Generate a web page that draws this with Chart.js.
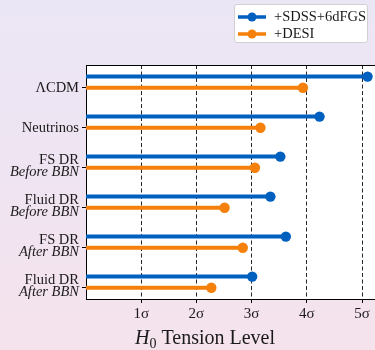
<!DOCTYPE html>
<html>
<head>
<meta charset="utf-8">
<script src="https://cdn.jsdelivr.net/npm/chart.js@4.4.1/dist/chart.umd.min.js"></script>
<style>
  html, body { margin: 0; padding: 0; width: 375px; height: 350px; overflow: hidden; }
  body { background: linear-gradient(180deg, #ebe6f5 0%, #efe4f2 50%, #f5e3ec 100%); position: relative; font-family: 'Liberation Serif', 'DejaVu Serif', serif; }
  #wrap { position: absolute; left: 0; top: 0; width: 375px; height: 350px; }
  #legend { position: absolute; left: 234px; top: 4px; width: 134px; height: 39px; background: #fff; border: 1px solid #d0d0d0; border-radius: 3px; box-sizing: border-box; padding-top: 3px; }
  .item { display: flex; align-items: center; height: 17px; padding-left: 3px; font-size: 14.5px; color: #1a1a1a; }
  .item svg { margin-right: 8px; }
</style>
</head>
<body>
<div id="wrap"><canvas id="c" width="375" height="350"></canvas></div>
<div id="legend"></div>
<script>
// ---- data ----
const categories = ['ΛCDM', 'Neutrinos', 'FS DR|Before BBN', 'Fluid DR|Before BBN', 'FS DR|After BBN', 'Fluid DR|After BBN'];
const sdssValues = [5.10, 4.23, 3.52, 3.34, 3.62, 3.01];
const desiValues = [3.93, 3.16, 3.06, 2.51, 2.84, 2.27];
const xTickValues = [1, 2, 3, 4, 5];
const xTickLabels = ['1σ', '2σ', '3σ', '4σ', '5σ'];
const seriesNames = ['+SDSS+6dFGS', '+DESI'];

const BLUE = '#0060bf';
const ORANGE = '#f5800c';
const OFF = 0.14;

function buildSeries(vals, off) {
  const pts = [];
  vals.forEach((v, i) => {
    pts.push({x: 0, y: i + off});
    pts.push({x: v, y: i + off, end: true});
    pts.push({x: null, y: null});
  });
  return pts;
}

// legend (HTML)
const legend = document.getElementById('legend');
[[seriesNames[0], BLUE], [seriesNames[1], ORANGE]].forEach(([name, col]) => {
  const d = document.createElement('div');
  d.className = 'item';
  d.innerHTML = '<svg width="28" height="12"><line x1="0" y1="6" x2="28" y2="6" stroke="' + col + '" stroke-width="3.5"/><circle cx="14" cy="6" r="4.5" fill="' + col + '"/></svg><span>' + name + '</span>';
  legend.appendChild(d);
});

const framePlugin = {
  id: 'frame',
  beforeDraw(chart) {
    const {ctx, chartArea: a} = chart;
    ctx.save();
    ctx.fillStyle = '#ffffff';
    ctx.fillRect(a.left, a.top, a.right - a.left, a.bottom - a.top);
    ctx.restore();
  },
  afterDraw(chart) {
    const {ctx, chartArea: a} = chart;
    ctx.save();
    ctx.strokeStyle = '#000';
    ctx.lineWidth = 1;
    ctx.beginPath();
    ctx.moveTo(a.left, a.top + 0.5);
    ctx.lineTo(a.right, a.top + 0.5);
    ctx.stroke();
    // y labels
    const ys = chart.scales.y;
    ctx.fillStyle = '#1a1a1a';
    ctx.textAlign = 'right';
    ctx.textBaseline = 'middle';
    categories.forEach((c, i) => {
      const py = ys.getPixelForValue(i + OFF);
      const parts = c.split('|');
      if (parts.length === 1) {
        ctx.font = '14.5px "Liberation Serif"';
        ctx.fillText(parts[0], 79, py);
      } else {
        ctx.font = '14.5px "Liberation Serif"';
        ctx.fillText(parts[0], 79, py - 8);
        ctx.font = 'italic 14.5px "Liberation Serif"';
        ctx.fillText(parts[1], 79, py + 4.5);
      }
    });
    // x title: H_0 Tension Level
    const f1 = 'italic 20px "Liberation Serif"';
    const f2 = '14px "Liberation Serif"';
    const f3 = '20px "Liberation Serif"';
    ctx.textAlign = 'left';
    ctx.textBaseline = 'alphabetic';
    ctx.font = f1; const w1 = ctx.measureText('H').width;
    ctx.font = f2; const w2 = ctx.measureText('0').width;
    ctx.font = f3; const w3 = ctx.measureText(' Tension Level').width;
    let x0 = 205 - (w1 + w2 + w3) / 2;
    ctx.font = f1; ctx.fillText('H', x0, 344);
    ctx.font = f2; ctx.fillText('0', x0 + w1, 347.5);
    ctx.font = f3; ctx.fillText(' Tension Level', x0 + w1 + w2, 344);
    ctx.restore();
  }
};

const radiusFn = (ctx) => (ctx.raw && ctx.raw.end ? 5.2 : 0);

new Chart(document.getElementById('c'), {
  type: 'scatter',
  data: {
    datasets: [
      {label: seriesNames[0], data: buildSeries(sdssValues, -OFF), showLine: true, borderColor: BLUE, backgroundColor: BLUE, borderWidth: 4, pointRadius: radiusFn, pointHoverRadius: radiusFn, pointBorderWidth: 0, spanGaps: false, borderCapStyle: 'butt'},
      {label: seriesNames[1], data: buildSeries(desiValues, OFF), showLine: true, borderColor: ORANGE, backgroundColor: ORANGE, borderWidth: 4, pointRadius: radiusFn, pointHoverRadius: radiusFn, pointBorderWidth: 0, spanGaps: false, borderCapStyle: 'butt'}
    ]
  },
  options: {
    responsive: false,
    animation: false,
    devicePixelRatio: 1,
    layout: {padding: {top: 65, right: 0, left: 0, bottom: 0}},
    plugins: {legend: {display: false}, tooltip: {enabled: false}},
    scales: {
      x: {
        type: 'linear',
        min: 0, max: 5.235,
        afterBuildTicks: (s) => { s.ticks = xTickValues.map(v => ({value: v})); },
        afterFit: (s) => { s.height = 51; },
        ticks: {
          callback: (v) => { const i = xTickValues.indexOf(v); return i >= 0 ? xTickLabels[i] : ''; },
          font: {family: 'Liberation Serif', size: 15}, color: '#1a1a1a', padding: 2, maxRotation: 0, autoSkip: false
        },
        grid: {display: true, drawOnChartArea: true, color: 'rgba(0,0,0,0.85)', lineWidth: 1, tickLength: 4, tickColor: '#000', tickBorderDash: [], tickWidth: 1},
        border: {display: true, color: '#000', width: 1, dash: [4, 2.5]}
      },
      y: {
        type: 'linear',
        reverse: true,
        min: -0.43, max: 5.42,
        afterBuildTicks: (s) => { s.ticks = categories.map((_, i) => ({value: i + OFF})); },
        afterFit: (s) => { s.width = 86; },
        ticks: {callback: () => '', padding: 0},
        grid: {drawOnChartArea: false, tickLength: 4, tickColor: '#000', tickWidth: 1},
        border: {display: true, color: '#000', width: 1}
      }
    }
  },
  plugins: [framePlugin]
});
</script>
</body>
</html>
